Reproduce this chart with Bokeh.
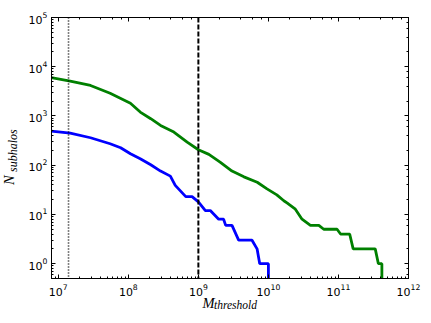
from bokeh.plotting import figure
from bokeh.models import LogAxis, Span, Range1d, CustomJSTickFormatter, LogTicker, Div
from bokeh.layouts import row, column
from bokeh.embed import file_html
from bokeh.resources import INLINE

# log10 of threshold mass, cumulative subhalo counts
blue_logm = [6.90, 7.17, 7.46, 7.74, 7.89, 8.03, 8.17, 8.32, 8.46, 8.60, 8.67, 8.82, 8.91,
             9.00, 9.10, 9.17, 9.29, 9.36, 9.39, 9.48, 9.575, 9.766, 9.838, 9.876, 10.0, 10.0]
blue_n = [490, 448, 361, 273, 226, 171, 135, 102, 76, 60, 39, 23, 23,
          18, 12, 12, 8, 8, 6, 6, 3, 3, 2, 1, 1, 0]

green_logm = [6.90, 7.17, 7.46, 7.74, 8.03, 8.17, 8.32, 8.46, 8.65, 8.84, 9.00, 9.15, 9.31,
              9.48, 9.65, 9.84, 9.98, 10.12, 10.22, 10.27, 10.38, 10.48, 10.60, 10.72, 10.79,
              10.98, 11.03, 11.16, 11.21, 11.525, 11.57, 11.62, 11.62]
green_n = [6000, 5090, 4170, 2900, 1820, 1200, 880, 643, 470, 294, 206, 166, 116,
           76, 58, 45, 33, 25, 19, 17, 13, 8, 6, 6, 5,
           5, 4, 4, 2, 2, 1, 1, 0]

dotted_mass = 1.4e7
dashed_mass = 1e9

x_lim = (8e6, 1e12)
y_lim = (0.5, 1e5)

x_label = ("M", "threshold")
y_label = ("N", "subhalos")


def to_plot(logm, n):
    xs = [10 ** v for v in logm]
    ys = [v if v > 0 else 1e-3 for v in n]  # zero counts fall off the log axis
    return xs, ys


LEFT_DIV = 20
p = figure(frame_width=357, frame_height=261, x_axis_type="log", y_axis_type="log",
           x_range=Range1d(*x_lim), y_range=Range1d(*y_lim),
           output_backend="svg", toolbar_location=None,
           min_border_left=31, min_border_right=14, min_border_top=17, min_border_bottom=26)

p.background_fill_color = "white"
p.border_fill_color = "white"
p.outline_line_color = "black"
p.outline_line_width = 1
p.xgrid.visible = False
p.ygrid.visible = False

bx, by = to_plot(blue_logm, blue_n)
gx, gy = to_plot(green_logm, green_n)
p.line(gx, gy, line_color="#008000", line_width=2.8)
p.line(bx, by, line_color="#0000ff", line_width=2.8)

p.add_layout(Span(location=dotted_mass, dimension="height", line_color="black",
                  line_width=1.6, line_dash="1 2"))
p.add_layout(Span(location=dashed_mass, dimension="height", line_color="black",
                  line_width=2, line_dash="5 2"))

for ax in (p.xaxis[0], p.yaxis[0]):
    ax.major_tick_in = 4
    ax.major_tick_out = 0
    ax.minor_tick_in = 2
    ax.minor_tick_out = 0
    ax.axis_line_color = "black"
    ax.major_tick_line_color = "black"
    ax.minor_tick_line_color = "black"
    ax.major_label_text_font = "DejaVu Sans"
    ax.major_label_text_font_size = "11px"
    ax.major_label_text_color = "black"
    ax.axis_label = None
p.xaxis[0].major_label_standoff = 5
p.yaxis[0].major_label_standoff = 4

blank = CustomJSTickFormatter(code="return ''")
top = LogAxis(ticker=LogTicker(), formatter=blank)
right = LogAxis(ticker=LogTicker(), formatter=blank)
for ax in (top, right):
    ax.major_tick_in = 4
    ax.major_tick_out = 0
    ax.minor_tick_in = 2
    ax.minor_tick_out = 0
    ax.major_label_standoff = 0
    ax.major_label_text_font_size = "1px"
    ax.axis_line_color = "black"
p.add_layout(top, "above")
p.add_layout(right, "right")

FIG_H = 17 + 261 + 26
FIG_W = 31 + 357 + 14
font = "font-family:'Liberation Serif';font-style:italic;color:black;line-height:1;white-space:nowrap;"

span_x = ("<div style='position:relative;width:%dpx;height:26px;'>"
          "<span style=\"position:absolute;left:182.5px;top:2px;font-size:14.5px;%s\">%s</span>"
          "<span style=\"position:absolute;left:194px;top:6.4px;font-size:11.5px;%s\">%s</span>"
          "</div>") % (FIG_W, font, x_label[0], font, x_label[1])
xdiv = Div(text=span_x, width=FIG_W, height=26, margin=(-10, 0, 0, 0))

rot = "position:absolute;transform-origin:0 0;transform:rotate(-90deg);"
span_y = ("<div style='position:relative;width:%dpx;height:%dpx;'>"
          "<span style=\"%sleft:1.9px;top:185px;font-size:14.5px;%s\">%s</span>"
          "<span style=\"%sleft:6.5px;top:172px;font-size:12px;%s\">%s</span>"
          "</div>") % (LEFT_DIV, FIG_H, rot, font, y_label[0], rot, font, y_label[1])
ydiv = Div(text=span_y, width=LEFT_DIV, height=FIG_H, margin=(0, 0, 0, 0))

layout = row(ydiv, column(p, xdiv, spacing=0), spacing=0)

open("out.html", "w").write(file_html(layout, INLINE))
